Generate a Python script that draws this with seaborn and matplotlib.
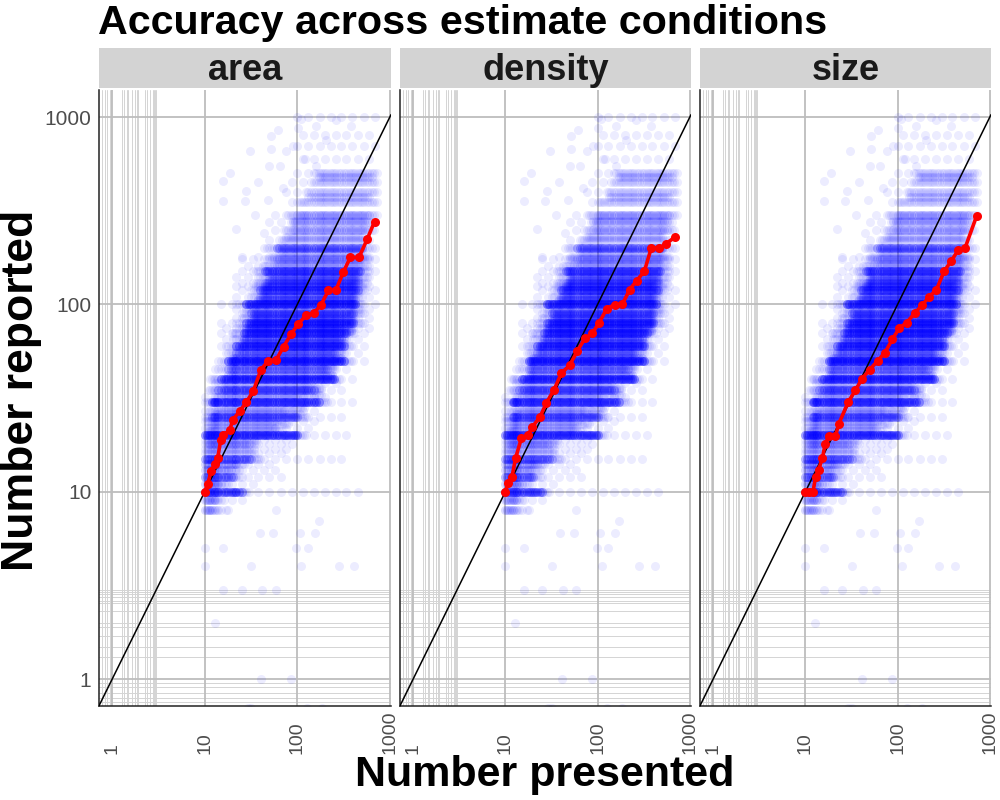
import numpy as np
import pandas as pd
import matplotlib
matplotlib.use("Agg")
import matplotlib.pyplot as plt
import seaborn as sns

# ---------------- data ----------------
conditions = ["area", "density", "size"]

# presented values used to draw the horizontal response bands
presented_grid = [10, 10.5, 11, 11.5, 12, 12.5, 13, 13.5, 14, 15, 16, 17, 18, 19, 20, 21, 22,
                  23.5, 25, 26.5, 28, 30, 32, 34, 36, 38, 40, 42.5, 45, 47.5, 50, 53, 56,
                  60, 64, 68, 72, 76, 80, 85, 90, 95, 100, 106, 112, 118, 125, 132, 140,
                  150, 160, 170, 180, 190, 200, 212, 225, 238, 250, 265, 280, 300, 320,
                  340, 360, 380, 400, 425, 450, 475, 500, 530, 560, 600, 640, 680, 720]
presented_sparse_a = [10, 13, 17, 22, 29, 38, 50, 66, 87, 115, 150, 200, 260, 340, 450, 600]
presented_sparse_b = [11.5, 15, 19.5, 25, 33, 44, 58, 76, 100, 130, 175, 230, 300, 390, 520, 690]

# round-number reported bands: dense core range, core weight, sparse tail range
band_reported = [8, 9, 10, 11, 12, 13, 14, 15, 16, 17,
                 18, 19, 20, 22, 24, 25, 27, 30, 32, 35,
                 38, 40, 45, 50, 55, 60, 65, 70, 75, 80,
                 85, 90, 95, 100, 110, 120, 125, 130, 140, 150,
                 160, 175, 180, 200, 220, 250, 275, 300, 350, 400,
                 450, 500, 600, 700, 800, 1000]
band_lo = [10, 10, 10, 10, 10, 10, 10, 10, 11, 11,
           11, 12, 10, 12, 13, 12, 14, 12, 16, 14,
           18, 15, 18, 18, 22, 22, 26, 26, 28, 28,
           32, 32, 35, 28, 40, 40, 45, 45, 50, 45,
           55, 60, 65, 60, 80, 90, 110, 100, 130, 160,
           180, 190, 250, 300, 250, 150]
band_hi = [12, 13, 25, 15, 20, 19, 22, 33, 28, 28,
           30, 30, 100, 45, 50, 100, 60, 170, 80, 150,
           120, 250, 220, 330, 260, 330, 300, 350, 330, 400,
           350, 400, 380, 430, 400, 450, 420, 450, 450, 480,
           450, 480, 450, 520, 500, 560, 540, 600, 600, 620,
           640, 660, 660, 700, 700, 700]
band_n = [2, 2, 5, 2, 4, 2, 2, 4, 1, 1,
          2, 1, 6, 1, 1, 4, 1, 6, 1, 4,
          1, 6, 3, 7, 3, 6, 3, 5, 3, 5,
          2, 4, 1, 7, 3, 5, 3, 3, 2, 5,
          1, 2, 1, 4, 1, 2, 1, 2, 1, 1,
          1, 1, 0, 0, 0, 0]
tail_lo = [10, 10, 10, 10, 10, 10, 10, 10, 10, 10,
           10, 10, 10, 10, 10, 10, 10, 10, 10, 10,
           12, 10, 12, 12, 15, 15, 15, 15, 15, 15,
           20, 20, 20, 13, 20, 20, 20, 22, 22, 20,
           25, 25, 30, 40, 45, 50, 50, 50, 70, 70,
           80, 80, 90, 100, 100, 100]
tail_hi = [20, 30, 450, 40, 80, 60, 60, 300, 80, 80,
           100, 80, 350, 150, 150, 300, 150, 450, 200, 350,
           300, 500, 400, 550, 450, 600, 500, 600, 600, 650,
           600, 650, 600, 700, 650, 700, 650, 650, 700, 700,
           700, 700, 700, 700, 700, 700, 700, 700, 700, 700,
           700, 700, 700, 700, 700, 700]

# in-between (non-round) responses forming the haze around the bands
mid_reported = [21, 23, 26, 28, 33, 36, 42, 47, 52, 57, 62, 67, 72, 78, 82, 88, 105, 115,
                135, 145, 165, 190, 230, 280, 375, 480]
mid_lo = [11, 12, 13, 14, 15, 16, 18, 19, 20, 22, 24, 25, 27, 30, 32, 34, 38, 42,
          48, 50, 55, 62, 75, 90, 130, 170]
mid_hi = [70, 80, 110, 120, 180, 180, 240, 260, 300, 300, 330, 330, 380, 380, 400, 420,
          430, 450, 460, 460, 480, 500, 520, 560, 600, 640]
mid_n = [1, 1, 1, 1, 1, 1, 2, 1, 2, 1, 2, 1, 2, 1, 2, 1, 2, 1,
         2, 1, 1, 1, 1, 1, 1, 1]

# isolated responses far from the bands
outlier_presented = [15.8, 18.9, 15.8, 27, 30.6, 52, 62, 101, 158, 262, 52, 37.7, 22, 28,
                     48, 76, 50, 64.6, 158, 204, 380, 35, 90, 120, 70, 44, 25, 110,
                     18, 59, 170, 39.5, 55, 107, 155, 10, 15.9, 98, 131, 10, 32, 111, 281,
                     415, 15.9, 25, 42, 59, 12.8, 41, 86, 29, 32, 127, 186]
outlier_reported = [454, 501, 355, 355, 658, 789, 849, 877, 891, 968, 678, 450, 253, 403,
                    362, 658, 550, 550, 550, 758, 891, 300, 700, 600, 420, 240, 180, 980,
                    8, 8, 7, 6, 6, 6, 6, 5, 5, 5, 5, 4, 4, 4, 4,
                    4, 3, 3, 3, 3, 2, 1, 1, 0.7, 0.7, 0.7, 0.7]

# median reported per presented value (red line)
area_x = [10, 10.8, 11.7, 12.8, 13.8, 14.9, 15.7, 18.6, 20.1, 24, 28.1, 33.6, 40.3, 48.4,
          59, 71, 86, 103, 125, 151, 180, 217, 261, 315, 374, 464, 570, 684]
area_y = [10, 11, 12.9, 14, 15.1, 19, 20, 21.3, 24.2, 27, 30, 34.6, 44.7, 49.9,
          50.5, 59.5, 69.5, 79, 87.5, 90, 99, 119, 119, 149, 178, 178, 223, 277]
density_x = [10, 10.7, 11.8, 12.9, 14.9, 17.6, 19.6, 23.8, 27.9, 33.5, 40.6, 49.7, 60,
             72.8, 87.5, 104, 126, 153, 185, 223, 265, 321, 383, 468, 553, 693]
density_y = [10, 11.1, 12.0, 15.1, 19.3, 20.1, 22.2, 25.1, 29.9, 34.8, 43.1, 47.2, 56.2,
             65.8, 70, 80, 95, 99.6, 100, 120, 134, 150, 201, 199, 211, 229]
size_x = [10, 11.0, 12.1, 12.9, 13.9, 15.3, 16.4, 18.0, 21.2, 23.1, 29.1, 34.9, 41.2, 49.9,
          60.8, 72.4, 87.5, 104, 125, 153, 183, 221, 264, 319, 380, 451, 537, 718]
size_y = [10, 10, 10, 12.0, 13.1, 15.1, 18.0, 19.9, 19.9, 23.1, 30.1, 34.8, 40.2, 44.9,
          50, 55, 65, 74.7, 79.8, 89.6, 98.9, 110, 120, 150, 170, 194, 199, 296]

major_breaks = [1, 10, 100, 1000]
break_labels = ["1", "10", "100", "1000"]
# stray minor grid lines (as in the reference)
minor_x = [0.775, 0.826, 0.88, 0.95, 0.975, 1.28, 1.34, 1.45, 1.49, 1.64, 1.78, 1.86,
           1.92, 2.26, 2.38, 2.56, 2.75, 2.83, 2.9, 2.97]
minor_y = [0.75, 0.79, 0.842, 0.906, 0.95, 1.31, 1.48, 1.70, 1.90, 1.99, 2.31, 2.55,
           2.61, 2.74, 2.85, 2.91, 2.97]

# ---------------- build the point cloud ----------------
def build_cloud():
    xs, ys = [], []
    for i, rep in enumerate(band_reported):
        lo, hi, n = band_lo[i], band_hi[i], band_n[i]
        for x in presented_grid:
            if n > 0 and lo <= x <= hi:
                xs.extend([x] * n)
                ys.extend([rep] * n)
            elif n > 0 and lo / 1.3 <= x <= hi * 1.25:
                xs.append(x)
                ys.append(rep)
        sparse = presented_sparse_a if i % 2 == 0 else presented_sparse_b
        for x in sparse:
            if tail_lo[i] <= x <= tail_hi[i] and not (n > 0 and lo / 1.3 <= x <= hi * 1.25):
                xs.append(x)
                ys.append(rep)
    for i, rep in enumerate(mid_reported):
        for x in presented_grid:
            if mid_lo[i] <= x <= mid_hi[i]:
                xs.extend([x] * mid_n[i])
                ys.extend([rep] * mid_n[i])
    xs.extend(outlier_presented)
    ys.extend(outlier_reported)
    return xs, ys

rows = []
cx, cy = build_cloud()
for cond in conditions:
    rows.append(pd.DataFrame({"condition": cond, "presented": cx, "reported": cy}))
cloud = pd.concat(rows, ignore_index=True)

medians = pd.concat([
    pd.DataFrame({"condition": "area", "presented": area_x, "reported": area_y}),
    pd.DataFrame({"condition": "density", "presented": density_x, "reported": density_y}),
    pd.DataFrame({"condition": "size", "presented": size_x, "reported": size_y}),
], ignore_index=True)

# ---------------- draw ----------------
sns.set_style("white")
plt.rcParams["font.family"] = ["Liberation Sans", "DejaVu Sans"]

fig = plt.figure(figsize=(10, 8), dpi=100)
lefts = [0.099, 0.400, 0.700]
widths = [0.292, 0.291, 0.291]
bottom, height = 0.1175, 0.77

for i, cond in enumerate(conditions):
    ax = fig.add_axes([lefts[i], bottom, widths[i], height])
    ax.set_xscale("log")
    ax.set_yscale("log")
    ax.set_xlim(0.72, 1030)
    ax.set_ylim(0.718, 1395)
    ax.set_facecolor("white")

    for v in minor_x:
        ax.axvline(v, color="#d4d4d4", lw=0.7, zorder=0)
    for v in minor_y:
        ax.axhline(v, color="#d4d4d4", lw=0.7, zorder=0)
    for v in major_breaks:
        ax.axvline(v, color="#bdbdbd", lw=1.3, zorder=0.5)
        ax.axhline(v, color="#bdbdbd", lw=1.3, zorder=0.5)

    sub = cloud[cloud["condition"] == cond]
    sns.scatterplot(data=sub, x="presented", y="reported", color="blue", alpha=0.075,
                    s=42, linewidth=0, ax=ax, legend=False, zorder=2)
    ax.axline((1, 1), (1000, 1000), color="black", lw=1.1, zorder=3)
    med = medians[medians["condition"] == cond]
    sns.lineplot(data=med, x="presented", y="reported", color="red", lw=2.6,
                 marker="o", markersize=6.5, markeredgewidth=0, errorbar=None,
                 ax=ax, zorder=4)

    ax.minorticks_off()
    ax.set_xticks(major_breaks)
    ax.set_xticklabels(break_labels, rotation=90, va="bottom", ha="center",
                       fontsize=14, color="#4d4d4d")
    ax.tick_params(axis="x", length=3.5, width=0.9, color="#333333", pad=31)
    ax.set_yticks(major_breaks)
    if i == 0:
        ax.set_yticklabels(break_labels, fontsize=15, color="#4d4d4d")
        ax.tick_params(axis="y", length=3.5, width=0.9, color="#333333", pad=2)
    else:
        ax.set_yticklabels([])
        ax.tick_params(axis="y", length=0)
    ax.set_xlabel("")
    ax.set_ylabel("")
    for s in ["top", "right"]:
        ax.spines[s].set_visible(False)
    for s in ["left", "bottom"]:
        ax.spines[s].set_color("#222222")
        ax.spines[s].set_linewidth(1.1)

    # facet strip
    sax = fig.add_axes([lefts[i], 0.89, widths[i], 0.05])
    sax.set_facecolor("#d3d3d3")
    sax.set_xticks([])
    sax.set_yticks([])
    for s in sax.spines.values():
        s.set_visible(False)
    sax.text(0.5, 0.45, cond, ha="center", va="center", fontsize=26,
             fontweight="bold", color="#1a1a1a", transform=sax.transAxes)

fig.text(0.098, 1 - 23 / 800, "Accuracy across estimate conditions", ha="left",
         va="center", fontsize=29.7, fontweight="bold", color="black")
fig.text(0.545, 1 - 775 / 800, "Number presented", ha="center", va="center",
         fontsize=31, fontweight="bold", color="black")
fig.text(0.022, 1 - 390 / 800, "Number reported", ha="center", va="center",
         rotation=90, fontsize=32, fontweight="bold", color="black")

fig.savefig("out.png", dpi=100)
